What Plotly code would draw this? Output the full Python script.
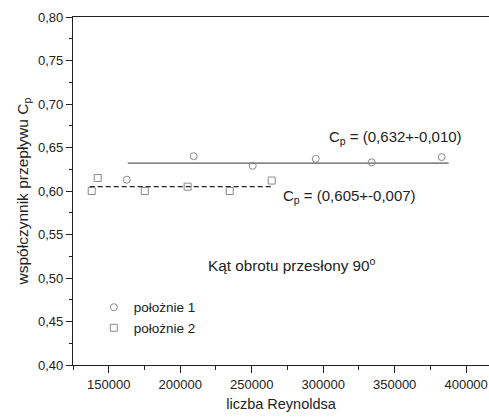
import plotly.graph_objects as go

# dane
re_pol1 = [162600, 209400, 250700, 294800, 333900, 382900]
cp_pol1 = [0.613, 0.640, 0.629, 0.637, 0.633, 0.639]

re_pol2 = [138100, 142300, 175200, 205200, 234600, 264000]
cp_pol2 = [0.600, 0.615, 0.600, 0.605, 0.600, 0.612]

fit1_x = [163300, 387800]
fit1_y = [0.632, 0.632]
fit2_x = [136700, 265000]
fit2_y = [0.605, 0.605]

FONT = "Liberation Sans, Arial, sans-serif"

fig = go.Figure()
fig.add_trace(go.Scatter(x=fit1_x, y=fit1_y, mode='lines', showlegend=False,
                         line=dict(color='#5a5a5a', width=1.3)))
fig.add_trace(go.Scatter(x=fit2_x, y=fit2_y, mode='lines', showlegend=False,
                         line=dict(color='#222222', width=1.1, dash='5px,3px')))
fig.add_trace(go.Scatter(x=re_pol1, y=cp_pol1, mode='markers', name='położnie 1',
                         marker=dict(symbol='circle-open', size=7, color='#8a8a8a',
                                     line=dict(width=1))))
fig.add_trace(go.Scatter(x=re_pol2, y=cp_pol2, mode='markers', name='położnie 2',
                         marker=dict(symbol='square-open', size=7, color='#8a8a8a',
                                     line=dict(width=1))))

fig.add_annotation(x=302900, y=0.662, text='C<sub>p</sub> = (0,632+-0,010)', showarrow=False,
                   xanchor='left', font=dict(size=15, color='#222'))
fig.add_annotation(x=270600, y=0.594, text='C<sub>p</sub> = (0,605+-0,007)', showarrow=False,
                   xanchor='left', font=dict(size=15, color='#222'))
fig.add_annotation(x=278300, y=0.515, text='Kąt obrotu przesłony 90<sup>o</sup>', showarrow=False,
                   font=dict(size=15.3, color='#222'))

fig.update_layout(
    width=489, height=418,
    margin=dict(l=73, r=0, t=17, b=53),
    plot_bgcolor='white', paper_bgcolor='white',
    font=dict(family=FONT, size=13, color='#222'),
    legend=dict(x=0.05, y=0.21, xanchor='left', yanchor='top', bgcolor='rgba(0,0,0,0)',
                font=dict(size=13.5), tracegroupgap=0),
    xaxis=dict(range=[125000, 416000], dtick=50000, tick0=0, tickformat='d',
               showline=True, linecolor='#222', linewidth=1.2, mirror=True,
               ticks='outside', ticklen=7, tickcolor='#222', showgrid=False, zeroline=False,
               minor=dict(dtick=25000, tick0=0, ticks='outside', ticklen=4, tickcolor='#222'),
               title=dict(text='liczba Reynoldsa', font=dict(size=14.5), standoff=8)),
    yaxis=dict(range=[0.40, 0.80], dtick=0.05, tickformat='.2f',
               showline=True, linecolor='#222', linewidth=1.2,
               ticks='outside', ticklen=6, tickcolor='#222', showgrid=False, zeroline=False,
               minor=dict(dtick=0.025, ticks='outside', ticklen=3, tickcolor='#222'),
               title=dict(text='współczynnik przepływu C<sub>p</sub>', font=dict(size=15.5), standoff=5)),
    separators=', ',
)

# strona bez domyslnego marginesu body, bez paska narzedzi
fig.write_html("out.html", config={'displayModeBar': False},
               post_script="document.body.style.margin='0';")
